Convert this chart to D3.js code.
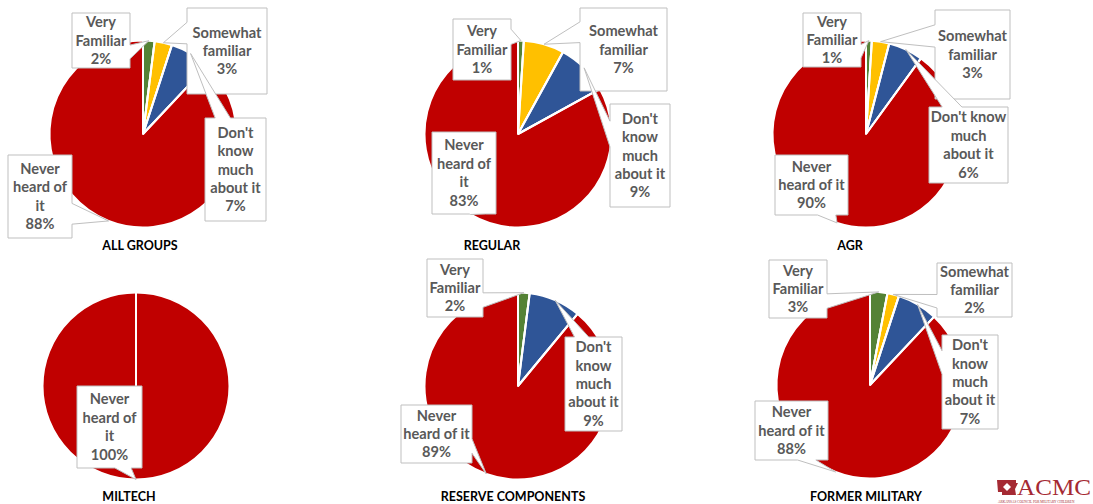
<!DOCTYPE html>
<html><head><meta charset="utf-8">
<script src="https://cdn.jsdelivr.net/npm/d3@7"></script>
<style>body{margin:0;background:#fff;} svg{display:block;}</style>
</head><body>
<svg id="chart" width="1093" height="504"></svg>
<script>
// ---- data ----
const groups = ["ALL GROUPS", "REGULAR", "AGR", "MILTECH", "RESERVE COMPONENTS", "FORMER MILITARY"];
const categories = ["Very Familiar", "Somewhat familiar", "Don't know much about it", "Never heard of it"];
const veryFamiliar     = [2, 1, 1, 0, 2, 3];
const somewhatFamiliar = [3, 7, 3, 0, 0, 2];
const dontKnow         = [7, 9, 6, 0, 9, 7];
const neverHeard       = [88, 83, 90, 100, 89, 88];
const colors = ["#548235", "#FFC000", "#2F5597", "#C00000"];

// ---- layout ----
const pieCenters = [[143,134],[518,134],[866,134],[136,386],[518,386],[870,385]];
const titlePos = [[140,250],[492,250],[850,250],[129,501],[513,501],[866,501]];
const radius = 93.5;
const wrapVF = ["Very","Familiar"], wrapSF = ["Somewhat","familiar"];
const wrapDK5 = ["Don't","know","much","about it"], wrapDK4 = ["Don't know","much","about it"];
const wrapNH4 = ["Never","heard of","it"], wrapNH3 = ["Never","heard of it"];
// boxes: [x, y, w, h] per group, per category (null = no label)
const labelBoxes = [
  [[72,13,58,55],[187,8,80,86],[205,118,61,103],[8,155,64,83]],
  [[453,19,58,61],[580,8,87,83],[610,104,60,103],[432,132,64,82]],
  [[803,13,58,54],[935,10,75,89],[929,107,79,76],[775,155,73,60]],
  [null,null,null,[77,386,65,82]],
  [[427,259,56,58],null,[565,337,57,94],[401,405,71,58]],
  [[769,260,58,58],[937,263,75,54],[942,335,56,94],[755,401,73,59]]
];
const labelWraps = [
  [wrapVF, wrapSF, wrapDK5, wrapNH4],
  [wrapVF, wrapSF, wrapDK5, wrapNH4],
  [wrapVF, wrapSF, wrapDK4, wrapNH3],
  [wrapVF, wrapSF, wrapDK5, wrapNH4],
  [wrapVF, wrapSF, wrapDK5, wrapNH3],
  [wrapVF, wrapSF, wrapDK5, wrapNH3]
];
const lineH = 18.4;

const svg = d3.select("#chart");
const pie = d3.pie().sort(null).value(d => d.value);
const arc = d3.arc().innerRadius(0).outerRadius(radius);

function calloutPath(b, tx, ty) {
  const [x, y, w, h] = b;
  const cx = x + w/2, cy = y + h/2;
  const dxPos = tx - cx, dyPos = ty - cy;
  let pts;
  if (tx >= x && tx <= x + w && ty >= y && ty <= y + h) {
    pts = [[x,y],[x+w,y],[x+w,y+h],[x,y+h]];
  } else {
    const horiz = Math.abs(dxPos * h) > Math.abs(dyPos * w);
    const xa = x + w * (dxPos > 0 ? 7 : 2) / 12, xb = x + w * (dxPos > 0 ? 10 : 5) / 12;
    const ya = y + h * (dyPos > 0 ? 7 : 2) / 12, yb = y + h * (dyPos > 0 ? 10 : 5) / 12;
    if (horiz) {
      if (dxPos < 0) pts = [[x,y],[x+w,y],[x+w,y+h],[x,y+h],[x,yb],[tx,ty],[x,ya]];
      else pts = [[x,y],[x+w,y],[x+w,ya],[tx,ty],[x+w,yb],[x+w,y+h],[x,y+h]];
    } else {
      if (dyPos < 0) pts = [[x,y],[xa,y],[tx,ty],[xb,y],[x+w,y],[x+w,y+h],[x,y+h]];
      else pts = [[x,y],[x+w,y],[x+w,y+h],[xb,y+h],[tx,ty],[xa,y+h],[x,y+h]];
    }
  }
  return "M" + pts.map(p => p[0] + "," + p[1]).join("L") + "Z";
}

groups.forEach((g, gi) => {
  const vals = [veryFamiliar[gi], somewhatFamiliar[gi], dontKnow[gi], neverHeard[gi]];
  const data = categories.map((c, ci) => ({cat: c, ci, value: vals[ci]}));
  const arcs = pie(data);
  const [pcx, pcy] = pieCenters[gi];
  const gp = svg.append("g").attr("transform", `translate(${pcx},${pcy})`);
  const shown = arcs.filter(a => a.data.value > 0);
  gp.selectAll("path.slice").data(shown).join("path")
    .attr("class", "slice")
    .attr("d", arc)
    .attr("fill", d => colors[d.data.ci])
    .attr("stroke", "#fff").attr("stroke-width", 2).attr("stroke-linejoin", "round");
  // radial separators at slice starts
  gp.selectAll("line.sep").data(shown).join("line")
    .attr("class", "sep")
    .attr("x1", 0).attr("y1", 0)
    .attr("x2", d => radius * Math.sin(d.startAngle))
    .attr("y2", d => -radius * Math.cos(d.startAngle))
    .attr("stroke", "#fff").attr("stroke-width", 2);

  // callouts
  shown.forEach(a => {
    const b = labelBoxes[gi][a.data.ci];
    if (!b) return;
    const mid = (a.startAngle + a.endAngle) / 2;
    const tx = pcx + radius * Math.sin(mid), ty = pcy - radius * Math.cos(mid);
    svg.append("path").attr("d", calloutPath(b, tx, ty))
      .attr("fill", "#fff").attr("stroke", "#bfbfbf").attr("stroke-width", 1);
    const lines = labelWraps[gi][a.data.ci].concat([a.data.value + "%"]);
    const cx = b[0] + b[2] / 2, cy = b[1] + b[3] / 2;
    const t = svg.append("text")
      .attr("font-family", "Lato, 'Open Sans', sans-serif")
      .attr("font-weight", "bold").attr("font-size", 14.6)
      .attr("fill", "#595959").attr("text-anchor", "middle");
    lines.forEach((l, li) => {
      t.append("tspan").attr("x", cx)
        .attr("y", cy + (li - (lines.length - 1) / 2) * lineH + 5)
        .text(l);
    });
  });

  svg.append("text").attr("x", titlePos[gi][0]).attr("y", titlePos[gi][1])
    .attr("text-anchor", "middle")
    .attr("font-family", "Lato, 'Open Sans', sans-serif")
    .attr("font-weight", "bold").attr("font-size", 12.5).attr("fill", "#000")
    .text(g);
});

// logo
const logo = svg.append("g");
logo.append("path")
  .attr("d", "M997,480 L1016,480 L1016,483 L1018,483 L1015,489 L1016,495 L1002,495 L1002,492 L998,492 Z")
  .attr("fill", "#a52a33");
logo.append("path").attr("d", "M1007,483 L1011,487 L1007,491 L1003,487 Z").attr("fill", "#fff");
logo.append("text").attr("x", 1017).attr("y", 495)
  .attr("font-family", "'Liberation Serif', serif").attr("font-size", 24)
  .attr("textLength", 74).attr("lengthAdjust", "spacingAndGlyphs")
  .attr("fill", "#a52a33").text("ACMC");
logo.append("text").attr("x", 998).attr("y", 503)
  .attr("font-family", "'Liberation Serif', serif").attr("font-size", 3.4)
  .attr("fill", "#a52a33").text("ARKANSAS COUNCIL FOR MILITARY CHILDREN");
</script>
</body></html>
